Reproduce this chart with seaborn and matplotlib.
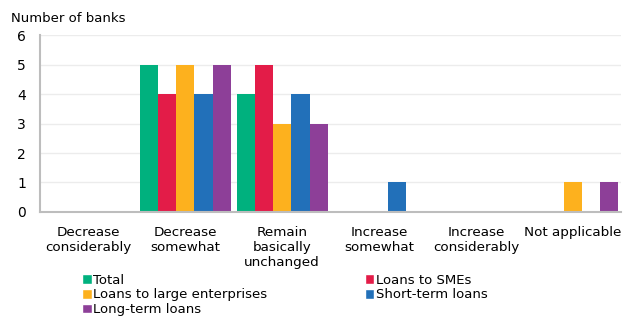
import matplotlib
matplotlib.use("Agg")
import matplotlib.pyplot as plt
import seaborn as sns
import pandas as pd
from matplotlib.patches import Patch

categories = ["Decrease\nconsiderably", "Decrease\nsomewhat", "Remain\nbasically\nunchanged",
              "Increase\nsomewhat", "Increase\nconsiderably", "Not applicable"]
series = ["Total", "Loans to SMEs", "Loans to large enterprises", "Short-term loans", "Long-term loans"]
total = [0, 5, 4, 0, 0, 0]
smes = [0, 4, 5, 0, 0, 0]
large = [0, 5, 3, 0, 0, 1]
short_term = [0, 4, 4, 1, 0, 0]
long_term = [0, 5, 3, 0, 0, 1]
colors = ["#00b17e", "#e31c48", "#fdb11e", "#2270b9", "#8d3f98"]
yticks = [0, 1, 2, 3, 4, 5, 6]

values = [total, smes, large, short_term, long_term]
rows = []
for s, vals in zip(series, values):
    for c, v in zip(categories, vals):
        rows.append({"category": c, "series": s, "value": v})
df = pd.DataFrame(rows)

sns.set_style("white")
plt.rcParams["font.family"] = ["DejaVu Sans"]
plt.rcParams["text.color"] = "black"
plt.rcParams["xtick.color"] = "black"
plt.rcParams["ytick.color"] = "black"

fig = plt.figure(figsize=(6.25, 3.21), dpi=100)
ax = fig.add_axes([0.064, 0.34, 0.93, 0.55])
sns.barplot(data=df, x="category", y="value", hue="series", hue_order=series,
            order=categories, palette=colors, width=0.94, linewidth=0, ax=ax,
            legend=False, saturation=1)

ax.set_ylim(0, 6)
ax.set_yticks(yticks)
ax.set_xlim(-0.5, len(categories) - 0.5)
ax.yaxis.grid(True, color="#ececec", linewidth=1)
ax.set_axisbelow(True)
for sp in ["top", "right"]:
    ax.spines[sp].set_visible(False)
ax.spines["left"].set_color("#bdbdbd")
ax.spines["left"].set_linewidth(1.5)
ax.spines["bottom"].set_color("#bdbdbd")
ax.spines["bottom"].set_linewidth(1.5)
ax.tick_params(axis="x", length=0, labelsize=9.7, labelcolor="black", pad=10)
ax.tick_params(axis="y", length=0, labelsize=10, labelcolor="black", pad=10)
for lbl in ax.get_xticklabels():
    lbl.set_linespacing(1.2)
ax.set_xlabel("")
ax.set_ylabel("")
ax.text(-0.05, 1.098, "Number of banks", transform=ax.transAxes, fontsize=9.5,
        ha="left", va="center", color="black")

order = [0, 2, 4, 1, 3]
handles = [Patch(facecolor=colors[i], label=series[i]) for i in order]
leg = fig.legend(handles=handles, loc="upper left", bbox_to_anchor=(0.1314, 0.147), ncol=2,
                 frameon=False, fontsize=9.5, handlelength=0.75, handleheight=0.75,
                 handletextpad=0.1, labelspacing=0.125, columnspacing=7.36,
                 borderaxespad=0, borderpad=0)
for t in leg.get_texts():
    t.set_color("black")

fig.savefig("out.png", dpi=100)
